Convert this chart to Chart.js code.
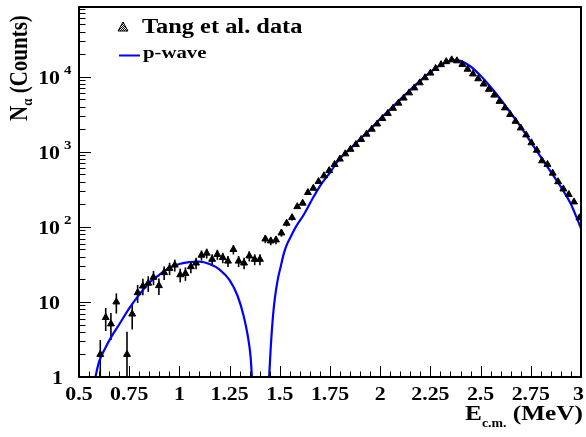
<!DOCTYPE html>
<html>
<head>
<meta charset="utf-8">
<script src="https://cdn.jsdelivr.net/npm/chart.js@4.4.1/dist/chart.umd.min.js"></script>
<style>
  html, body { margin: 0; padding: 0; background: #fff; }
  #wrap { width: 586px; height: 437px; }
</style>
</head>
<body>
<div id="wrap"><canvas id="chart" width="586" height="437"></canvas></div>
<script>
// Tang et al. data: E_c.m. (MeV) and alpha counts
const dataEnergy = [0.606, 0.633, 0.659, 0.686, 0.739, 0.765, 0.792, 0.818, 0.845, 0.871,
  0.898, 0.924, 0.951, 0.977, 1.004, 1.030, 1.057, 1.083, 1.110, 1.136,
  1.163, 1.189, 1.216, 1.242, 1.269, 1.295, 1.322, 1.348, 1.375, 1.401,
  1.428, 1.455, 1.481, 1.508, 1.534, 1.561, 1.587, 1.614, 1.640, 1.667,
  1.693, 1.720, 1.746, 1.773, 1.799, 1.826, 1.852, 1.879, 1.905, 1.932,
  1.958, 1.985, 2.011, 2.038, 2.064, 2.091, 2.117, 2.144, 2.170, 2.197,
  2.223, 2.250, 2.276, 2.303, 2.329, 2.356, 2.382, 2.409, 2.435, 2.462,
  2.488, 2.515, 2.541, 2.568, 2.594, 2.621, 2.647, 2.674, 2.700, 2.727,
  2.753, 2.780, 2.806, 2.833, 2.859, 2.886, 2.912, 2.939, 2.965, 2.992];
const dataCounts = [2.0, 6.2, 5.1, 10, 2.0, 6.9, 13.3, 16.3, 17.8, 21.3,
  16.5, 24.6, 28, 31, 23, 24, 29.5, 33, 42, 44.6,
  37, 43, 39, 35, 50, 35, 33, 41, 37, 37,
  69, 65, 67, 83, 112, 133, 186, 207, 287, 327,
  402, 479, 563, 680, 800, 940, 1080, 1250, 1460, 1720,
  2000, 2350, 2780, 3250, 3800, 4450, 5200, 6100, 7100, 8300,
  9700, 11200, 12900, 14500, 15900, 16800, 16300, 14600, 12600, 10900,
  9400, 8000, 6800, 5700, 4700, 3850, 3150, 2550, 2080, 1680,
  1320, 1050, 760, 680, 520, 400, 320, 270, 215, 132];
// error bars (only visible ones, low-energy part)
const dataErrors = [1.1, 2.1, 2.0, 3.0, 2.0, 2.6, 3.6, 4.0, 4.2, 4.6,
  4.1, 5.0, 5.3, 5.6, 4.8, 4.9, 5.4, 5.7, 6.5, 6.7,
  6.1, 6.6, 6.2, 5.9, 7.1, 5.9, 5.7, 6.4, 6.1, 6.1,
  8.3, 8.1, 8.2, 9.1, 10.6, 11.5];

// p-wave curve (null breaks it at the zero)
const curveEnergy = [0.578, 0.600, 0.630, 0.660, 0.700, 0.750, 0.800, 0.850, 0.900, 0.950,
  1.000, 1.050, 1.100, 1.150, 1.200, 1.250, 1.290, 1.320, 1.340, 1.355, 1.363,
  1.400,
  1.445, 1.455, 1.465, 1.475, 1.490, 1.505, 1.520, 1.535, 1.550, 1.580,
  1.620, 1.660, 1.700, 1.750, 1.800, 1.850, 1.900, 1.950, 2.000, 2.050,
  2.100, 2.150, 2.200, 2.250, 2.300, 2.350, 2.375, 2.400, 2.450, 2.500,
  2.550, 2.600, 2.650, 2.700, 2.750, 2.800, 2.850, 2.900, 2.950, 3.000];
const curveCounts = [0.9, 1.6, 2.4, 3.4, 5.0, 8.2, 12.5, 18, 23, 28.5,
  32, 34, 34.5, 32, 27, 19.5, 12, 6.5, 3.6, 1.8, 0.8,
  null,
  0.8, 2.5, 6, 11, 20, 30, 44, 58, 70, 100,
  146, 230, 350, 530, 820, 1100, 1480, 1990, 2750, 3700,
  5000, 6700, 8900, 11500, 14300, 16300, 16600, 16300, 13700, 10300,
  7300, 5000, 3300, 2150, 1350, 850, 540, 340, 200, 95];

const xTicks = [0.5, 0.75, 1, 1.25, 1.5, 1.75, 2, 2.25, 2.5, 2.75, 3];
const xTickLabels = ['0.5', '0.75', '1', '1.25', '1.5', '1.75', '2', '2.25', '2.5', '2.75', '3'];
const yTicks = [1, 10, 100, 1000, 10000];
const yTickLabels = [['1', ''], ['10', ''], ['10', '2'], ['10', '3'], ['10', '4']];

const FONT = '"Liberation Serif", "Times New Roman", serif';

function txt(ctx, s, x, y, size, align, sx) {
  ctx.save();
  ctx.translate(x, y);
  ctx.scale(sx || 1.15, 1);
  ctx.font = 'bold ' + size + 'px ' + FONT;
  ctx.textAlign = align || 'left';
  ctx.textBaseline = 'alphabetic';
  ctx.fillStyle = '#000';
  ctx.fillText(s, 0, 0);
  ctx.restore();
}
function tw(ctx, s, size, sx) {
  ctx.save();
  ctx.font = 'bold ' + size + 'px ' + FONT;
  const w = ctx.measureText(s).width * (sx || 1.15);
  ctx.restore();
  return w;
}

const errorBars = {
  id: 'errorBars',
  beforeDatasetsDraw(chart) {
    const ctx = chart.ctx, a = chart.chartArea;
    const xs = chart.scales.x, ys = chart.scales.y;
    ctx.save();
    ctx.beginPath();
    ctx.rect(a.left, a.top, a.right - a.left, a.bottom - a.top);
    ctx.clip();
    ctx.strokeStyle = '#000';
    ctx.lineWidth = 1.6;
    dataErrors.forEach((e, i) => {
      const x = xs.getPixelForValue(dataEnergy[i]);
      const lo = dataCounts[i] - e;
      const y1 = lo > ys.min ? ys.getPixelForValue(lo) : a.bottom;
      const y2 = ys.getPixelForValue(dataCounts[i] + e);
      ctx.beginPath();
      ctx.moveTo(x, y1);
      ctx.lineTo(x, y2);
      ctx.stroke();
    });
    ctx.restore();
  }
};

const rootFrame = {
  id: 'rootFrame',
  afterDraw(chart) {
    const ctx = chart.ctx, a = chart.chartArea;
    const xs = chart.scales.x, ys = chart.scales.y;
    ctx.save();
    ctx.strokeStyle = '#000';
    ctx.lineWidth = 1;
    // x ticks
    for (let k = 0; k <= 50; k++) {
      const v = 0.5 + k * 0.05;
      const x = Math.round(xs.getPixelForValue(v)) + 0.5;
      const len = (k % 5 === 0) ? 11 : 5.5;
      ctx.beginPath();
      ctx.moveTo(x, a.bottom);
      ctx.lineTo(x, a.bottom - len);
      ctx.stroke();
    }
    // y ticks (log)
    yTicks.forEach(d => {
      for (let m = 1; m <= 9; m++) {
        const v = m * d;
        if (v > ys.max) break;
        const y = Math.round(ys.getPixelForValue(v)) + 0.5;
        const len = m === 1 ? 12 : 6.5;
        ctx.beginPath();
        ctx.moveTo(a.left, y);
        ctx.lineTo(a.left + len, y);
        ctx.stroke();
      }
    });
    // frame
    ctx.lineWidth = 2;
    ctx.strokeRect(a.left, a.top, a.right - a.left, a.bottom - a.top);

    // x tick labels
    xTicks.forEach((v, i) => {
      let x = xs.getPixelForValue(v);
      const w = tw(ctx, xTickLabels[i], 19);
      if (x + w / 2 > 584) x = 584 - w / 2;
      txt(ctx, xTickLabels[i], x, 400, 19, 'center');
    });
    // y tick labels
    yTicks.forEach((v, i) => {
      const y = ys.getPixelForValue(v);
      const [base, sup] = yTickLabels[i];
      if (base === '1') {
        txt(ctx, '1', 63, y + 7, 19, 'right');
      } else {
        txt(ctx, base, 60, y + 7, 19, 'right');
        if (sup) txt(ctx, sup, 64, y - 3, 13, 'left');
      }
    });

    // x title: E_c.m. (MeV)
    const wE = tw(ctx, 'E', 22), wS = tw(ctx, 'c.m.', 12), wM = tw(ctx, ' (MeV)', 22);
    const xs0 = 583 - (wE + wS + wM);
    txt(ctx, 'E', xs0, 420, 22);
    txt(ctx, 'c.m.', xs0 + wE, 427, 12);
    txt(ctx, ' (MeV)', xs0 + wE + wS, 420, 22);

    // y title: N_alpha (Counts), rotated
    ctx.save();
    ctx.translate(27, 121);
    ctx.rotate(-Math.PI / 2);
    ctx.scale(1, 1.15);
    ctx.fillStyle = '#000';
    ctx.textBaseline = 'alphabetic';
    ctx.font = 'bold 21px ' + FONT;
    ctx.fillText('N', 0, 0);
    const wN = ctx.measureText('N').width;
    ctx.font = 'bold 13px ' + FONT;
    ctx.fillText('\u03b1', wN, 4);
    const wA = ctx.measureText('\u03b1').width;
    ctx.font = 'bold 21px ' + FONT;
    ctx.fillText(' (Counts)', wN + wA, 0);
    ctx.restore();

    // legend
    const pat = document.createElement('canvas');
    pat.width = 2; pat.height = 2;
    const pc = pat.getContext('2d');
    pc.fillStyle = '#fff'; pc.fillRect(0, 0, 2, 2);
    pc.fillStyle = '#000'; pc.fillRect(0, 0, 1, 1); pc.fillRect(1, 1, 1, 1);
    ctx.beginPath();
    ctx.moveTo(123, 22);
    ctx.lineTo(128, 31);
    ctx.lineTo(118, 31);
    ctx.closePath();
    ctx.fillStyle = ctx.createPattern(pat, 'repeat');
    ctx.fill();
    ctx.lineWidth = 1;
    ctx.strokeStyle = '#000';
    ctx.stroke();
    txt(ctx, 'Tang et al. data', 142, 33, 20, 'left', 1.22);

    ctx.strokeStyle = '#0000ff';
    ctx.lineWidth = 2;
    ctx.beginPath();
    ctx.moveTo(119, 55.5);
    ctx.lineTo(140, 55.5);
    ctx.stroke();
    txt(ctx, 'p-wave', 143, 58, 17, 'left', 1.22);
    ctx.restore();
  }
};

new Chart(document.getElementById('chart'), {
  type: 'scatter',
  data: {
    datasets: [
      {
        label: 'Tang et al. data',
        data: dataEnergy.map((e, i) => ({ x: e, y: dataCounts[i] })),
        pointStyle: 'triangle',
        pointRadius: 4,
        pointBackgroundColor: '#000',
        pointBorderColor: '#000',
        pointBorderWidth: 1,
        showLine: false
      },
      {
        label: 'p-wave',
        data: curveEnergy.map((e, i) => ({ x: e, y: curveCounts[i] })),
        showLine: true,
        spanGaps: false,
        borderColor: '#0000ff',
        borderWidth: 2.2,
        pointRadius: 0,
        cubicInterpolationMode: 'monotone',
        fill: false
      }
    ]
  },
  options: {
    responsive: false,
    animation: false,
    devicePixelRatio: 1,
    layout: { padding: { left: 79, right: 4, top: 7, bottom: 60 } },
    plugins: { legend: { display: false }, tooltip: { enabled: false } },
    scales: {
      x: { type: 'linear', min: 0.5, max: 3, display: false },
      y: { type: 'logarithmic', min: 1, max: 85000, display: false }
    }
  },
  plugins: [errorBars, rootFrame]
});
</script>
</body>
</html>
